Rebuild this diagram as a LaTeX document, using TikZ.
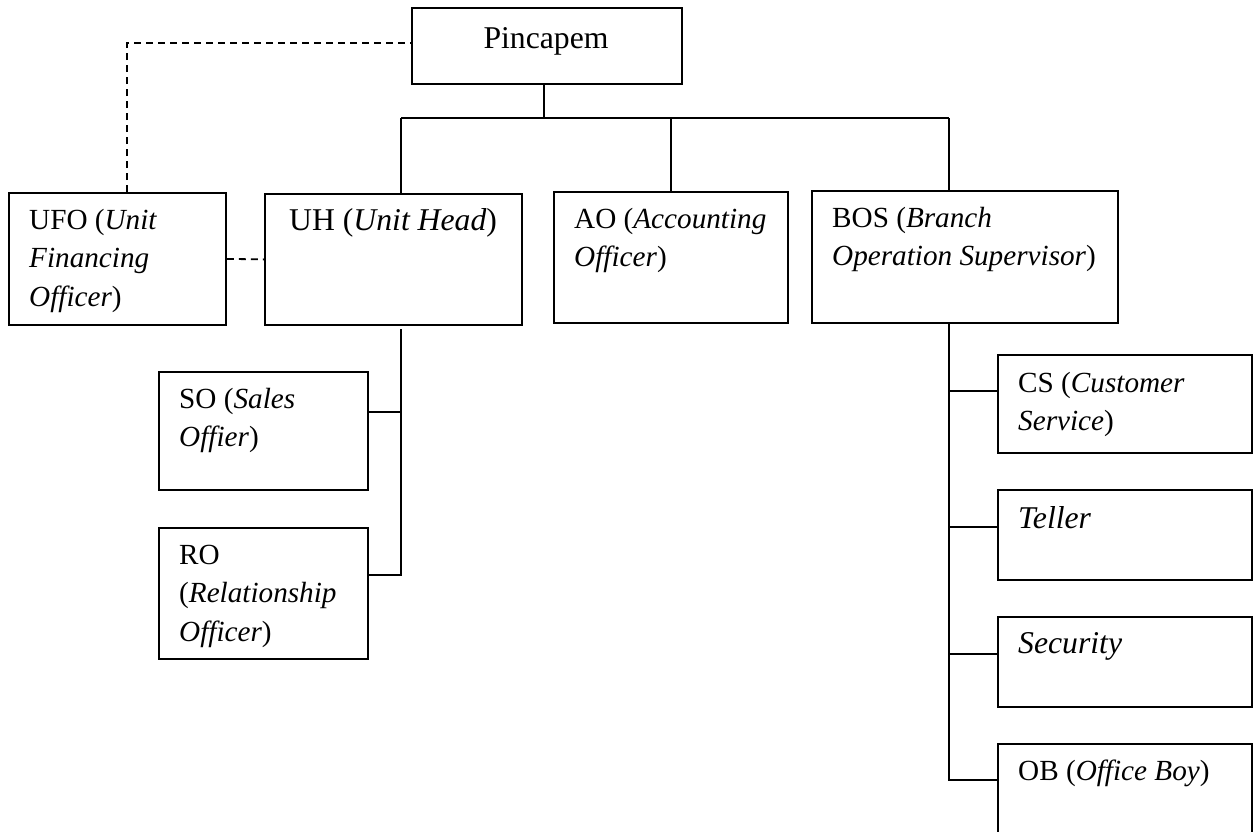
\documentclass[tikz,border=0pt]{standalone}
\usepackage{fontspec}
\setmainfont{Liberation Serif}
\begin{document}
\begin{tikzpicture}[x=1pt,y=-1pt,
  boxst/.style={draw, line width=1.8pt, inner sep=0pt, anchor=north west},
  txt/.style={inner sep=0pt, anchor=north west, align=left, font=\fontsize{29.2}{38.5}\selectfont},
  bigtxt/.style={inner sep=0pt, anchor=north west, align=left, font=\fontsize{31.7}{38.5}\selectfont},
  conn/.style={line width=1.8pt},
  dsh/.style={line width=1.8pt, dash pattern=on 7pt off 5pt}]
\useasboundingbox (0,0) rectangle (1259,831);
\clip (0,0) rectangle (1259,831);
% boxes
\node[boxst, minimum width=270pt, minimum height=76pt] (pinc) at (411,7) {};
\node[boxst, minimum width=217pt, minimum height=132pt] (ufo) at (8,192) {};
\node[boxst, minimum width=257pt, minimum height=131pt] (uh) at (264,193) {};
\node[boxst, minimum width=234pt, minimum height=131pt] (ao) at (553,191) {};
\node[boxst, minimum width=306pt, minimum height=132pt] (bos) at (811,190) {};
\node[boxst, minimum width=209pt, minimum height=118pt] (so) at (158,371) {};
\node[boxst, minimum width=209pt, minimum height=131pt] (ro) at (158,527) {};
\node[boxst, minimum width=254pt, minimum height=98pt] (cs) at (997,354) {};
\node[boxst, minimum width=254pt, minimum height=90pt] (tel) at (997,489) {};
\node[boxst, minimum width=254pt, minimum height=90pt] (sec) at (997,616) {};
\node[boxst, minimum width=254pt, minimum height=110pt] (ob) at (997,743) {};
% texts
\node[bigtxt, anchor=north] (pinct) at (546,21) {\strut Pincapem};
\node[txt] (ufot) at (29,202) {\strut UFO (\textit{Unit}\\\textit{Financing}\\\textit{Officer})};
\node[bigtxt] (uht) at (289,203) {\strut UH (\textit{Unit Head})};
\node[txt] (aot) at (574,201) {\strut AO (\textit{Accounting}\\\textit{Officer})};
\node[txt] (bost) at (832,200) {\strut BOS (\textit{Branch}\\\textit{Operation Supervisor})};
\node[txt] (sot) at (179,381) {\strut SO (\textit{Sales}\\\textit{Offier})};
\node[txt] (rot) at (179,537) {\strut RO\\(\textit{Relationship}\\\textit{Officer})};
\node[txt] (cst) at (1018,365) {\strut CS (\textit{Customer}\\\textit{Service})};
\node[bigtxt] (telt) at (1018,501) {\strut\textit{Teller}};
\node[bigtxt] (sect) at (1018,626) {\strut\textit{Security}};
\node[txt] (obt) at (1018,753) {\strut OB (\textit{Office Boy})};
% bus coordinates
\coordinate (busL) at (401,118);
\coordinate (busR) at (949,118);
\coordinate (ufoTop) at (127,192);
\coordinate (uhS) at (401,329);
\coordinate (soTick) at (401,412);
\coordinate (roTick) at (401,575);
\coordinate (csTick) at (949,391);
\coordinate (telTick) at (949,527);
\coordinate (secTick) at (949,654);
\coordinate (obTick) at (949,780);
% connectors
\draw[conn] ([xshift=-3pt]pinc.south) -- ([xshift=-3pt]pinc.south |- busL);
\draw[conn] (busL) -- (busR);
\draw[conn] (busL) -- (busL |- uh.north);
\draw[conn] (ao.north |- busL) -- (ao.north);
\draw[conn] (busR) -- (busR |- bos.north);
\draw[dsh] (ufoTop) -- (ufoTop |- 0,43) -- (pinc.west |- 0,43);
\draw[dsh] (ufo.east) -- (uh.west);
\draw[conn] (uhS) -- (roTick) -- (roTick -| ro.east);
\draw[conn] (soTick) -- (soTick -| so.east);
\draw[conn] (busR |- bos.south) -- (obTick) -- (obTick -| ob.west);
\draw[conn] (csTick) -- (csTick -| cs.west);
\draw[conn] (telTick) -- (telTick -| tel.west);
\draw[conn] (secTick) -- (secTick -| sec.west);
\end{tikzpicture}
\end{document}
